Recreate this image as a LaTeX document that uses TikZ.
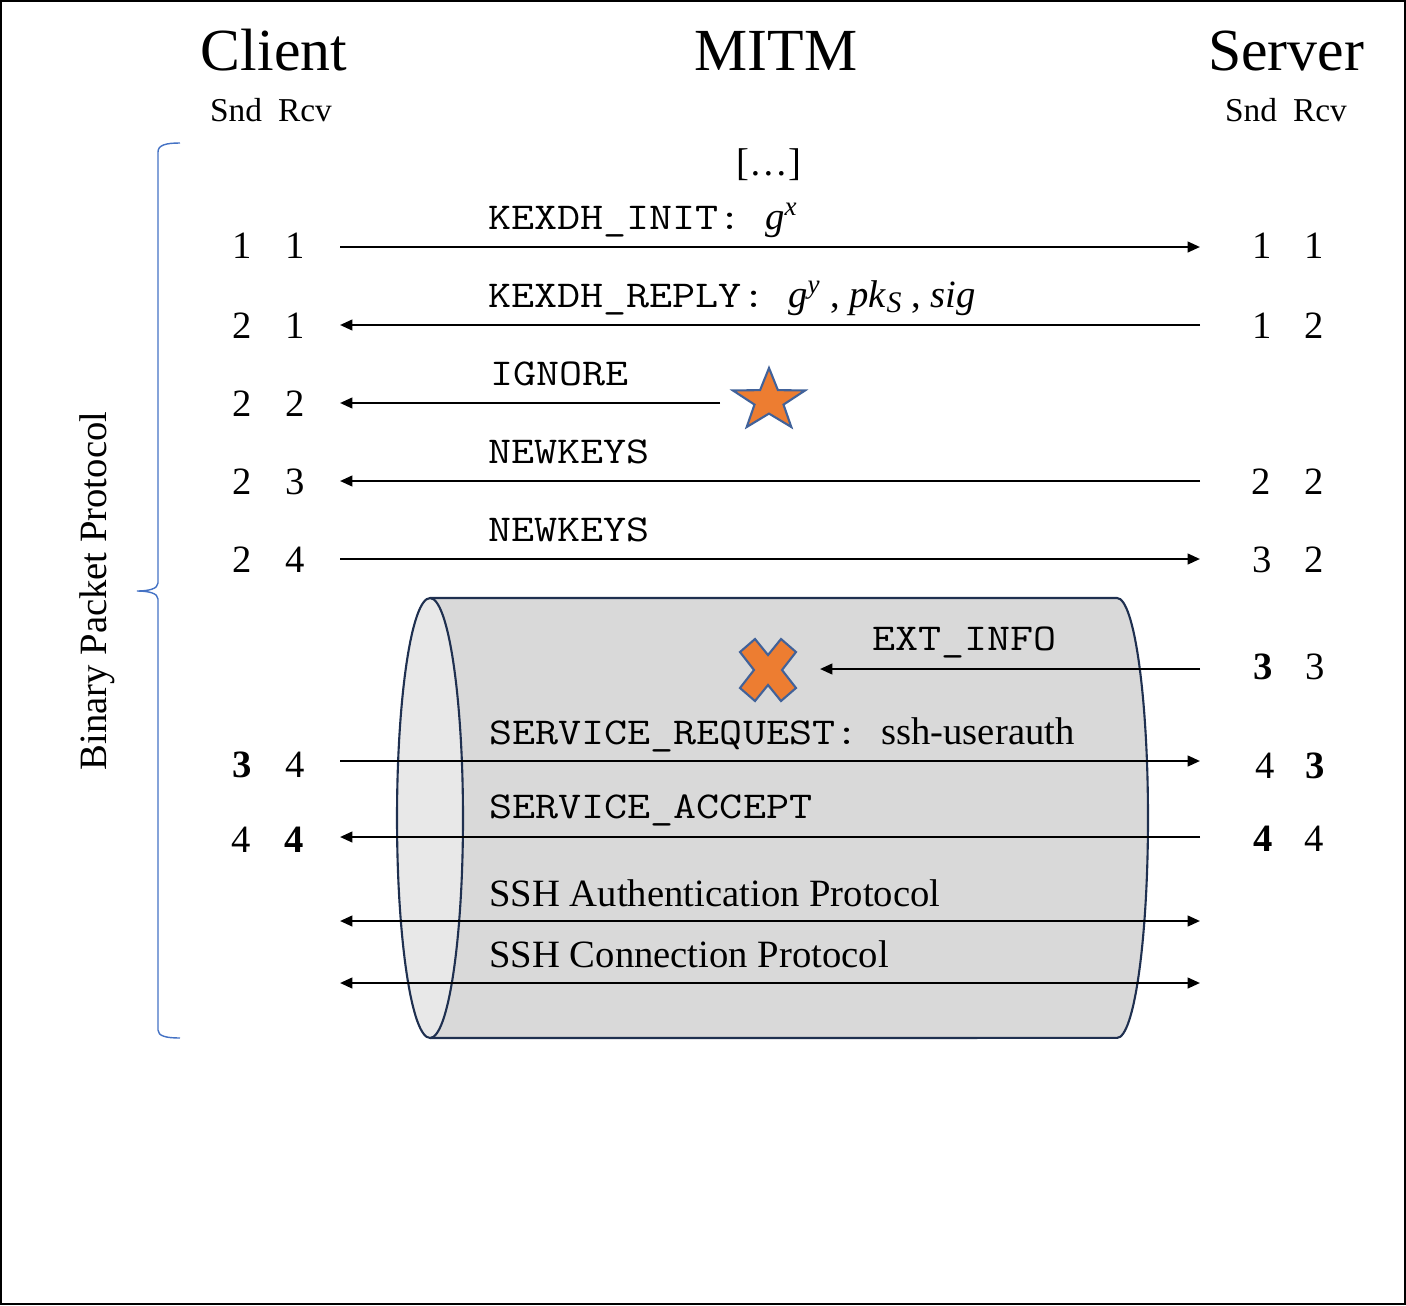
\documentclass[tikz,border=0pt]{standalone}
\usepackage{fontspec}
\setmainfont{Liberation Serif}
\newfontfamily\lmmono{Latin Modern Mono}[FakeStretch=1.18]
\usetikzlibrary{arrows.meta}
\definecolor{orng}{HTML}{ED7D31}
\definecolor{edgeblue}{HTML}{41629A}
\definecolor{cylgray}{HTML}{D9D9D9}
\definecolor{cylface}{HTML}{E8E8E8}
\definecolor{cylline}{HTML}{1F3050}
\definecolor{bracecol}{HTML}{4472C4}
\newcommand\fszz{\fontsize{22}{26}\selectfont}
\newcommand\monosz{\lmmono\fontsize{21.6}{26}\selectfont}
\tikzset{
  num/.style={font=\fszz, anchor=base, inner sep=0pt},
  lab/.style={font=\monosz, anchor=base west, inner sep=0pt},
  txt/.style={font=\fszz, anchor=base west, inner sep=0pt},
  msg/.style={line width=1.3pt, -{Triangle[length=7pt,width=6pt]}},
  msgboth/.style={line width=1.3pt, {Triangle[length=7pt,width=6pt]}-{Triangle[length=7pt,width=6pt]}},
}
\begin{document}
\begin{tikzpicture}[x=0.02cm,y=-0.02cm]
\useasboundingbox (0,0) rectangle (1406,1305);
\draw[line width=1.2pt] (1,1) rectangle (1405,1304);

% titles
\node[font=\fontsize{34}{40}\selectfont, anchor=base, inner sep=0pt] (tclient) at (274,70) {Client};
\node[font=\fontsize{34}{40}\selectfont, anchor=base, inner sep=0pt] (tmitm) at (776,70) {MITM};
\node[font=\fontsize{34}{40}\selectfont, anchor=base, inner sep=0pt] (tserver) at (1286,70) {Server};
\node[font=\fontsize{19}{22}\selectfont, anchor=base, inner sep=0pt] (csnd) at (236,121) {Snd};
\node[font=\fontsize{19}{22}\selectfont, anchor=base, inner sep=0pt] (crcv) at (305,121) {Rcv};
\node[font=\fontsize{19}{22}\selectfont, anchor=base, inner sep=0pt] (ssnd) at (1251,121) {Snd};
\node[font=\fontsize{19}{22}\selectfont, anchor=base, inner sep=0pt] (srcv) at (1320,121) {Rcv};
\node[num] (dots) at (769,175) {[…]};

% brace
\draw[bracecol, line width=0.8pt] (180,143) .. controls (166,143) and (158,145) .. (158,152)
  -- (158,583) .. controls (158,589) and (148,591) .. (137,591)
  .. controls (148,591) and (158,593) .. (158,599)
  -- (158,1030) .. controls (158,1036) and (166,1038) .. (180,1038);
\node[font=\fszz, rotate=90, anchor=base, inner sep=0pt] (bpp) at (106,591) {Binary Packet Protocol};

% cylinder
\fill[cylgray] (430,598) -- (1117,598) arc[start angle=90, end angle=-90, x radius=0.62cm, y radius=4.4cm] -- (430,1038) -- cycle;
\draw[cylline, line width=1.2pt] (430,598) -- (1117,598) arc[start angle=90, end angle=-90, x radius=0.62cm, y radius=4.4cm] -- (430,1038);
\filldraw[fill=cylface, draw=cylline, line width=1.2pt] (430,818) ellipse [x radius=0.66cm, y radius=4.4cm];

% star
\filldraw[fill=orng, draw=edgeblue, line width=1.2pt]
  (769,368) -- (760.1,390.1) -- (733.0,390.5) -- (754.5,404.6) -- (746.7,427.0)
  -- (769,413.6) -- (791.3,427.0) -- (783.5,404.6) -- (805.0,390.5) -- (777.9,390.1) -- cycle;
% cross
\filldraw[fill=orng, draw=edgeblue, line width=1.2pt, shift={(768,670)}]
  (0,-15) -- (13,-31) -- (28,-18) -- (14,0) -- (28,18) -- (13,31) -- (0,15)
  -- (-13,31) -- (-28,18) -- (-14,0) -- (-28,-18) -- (-13,-31) -- cycle;

% coordinates
\foreach \n/\y in {1/247,2/325,3/403,4/481,5/559,6/669,7/761,8/837,9/921,10/983}{
  \coordinate (L\n) at (340,\y);
  \coordinate (R\n) at (1200,\y);
}
\coordinate (M3) at (720,403);
\coordinate (M6) at (820,669);

% arrows
\draw[msg] (L1) -- (R1);
\draw[msg] (R2) -- (L2);
\draw[msg] (M3) -- (L3);
\draw[msg] (R4) -- (L4);
\draw[msg] (L5) -- (R5);
\draw[msg] (R6) -- (M6);
\draw[msg] (L7) -- (R7);
\draw[msg] (R8) -- (L8);
\draw[msgboth] (L9) -- (R9);
\draw[msgboth] (L10) -- (R10);

% labels
\node[lab] (l1) at (488,229) {KEXDH\_INIT:};
\node[txt] (l1m) at (765,229) {\textit{g}\textsuperscript{\textit{x}}};
\node[lab] (l2) at (488,307) {KEXDH\_REPLY:};
\node[txt] (l2m) at (788,307) {\textit{g}\textsuperscript{\textit{y}} , \textit{pk}\raisebox{-0.3ex}{\fontsize{17}{20}\selectfont\textit{S}} , \textit{sig}};
\node[lab] (l3) at (490,385) {IGNORE};
\node[lab] (l4) at (488,463) {NEWKEYS};
\node[lab] (l5) at (488,541) {NEWKEYS};
\node[lab] (l6) at (872,650) {EXT\_INFO};
\node[lab] (l7) at (489,744) {SERVICE\_REQUEST:};
\node[txt] (l7m) at (881,744) {ssh-userauth};
\node[lab] (l8) at (489,818) {SERVICE\_ACCEPT};
\node[txt] (l9) at (489,906) {SSH Authentication Protocol};
\node[txt] (l10) at (489,967) {SSH Connection Protocol};

% client numbers
\node[num] (ca1) at (242,258) {1}; \node[num] (cb1) at (295,258) {1};
\node[num] (ca2) at (242,338) {2}; \node[num] (cb2) at (295,338) {1};
\node[num] (ca3) at (242,416) {2}; \node[num] (cb3) at (295,416) {2};
\node[num] (ca4) at (242,494) {2}; \node[num] (cb4) at (295,494) {3};
\node[num] (ca5) at (242,572) {2}; \node[num] (cb5) at (295,572) {4};
\node[num] (ca7) at (242,777) {\textbf{3}}; \node[num] (cb7) at (295,777) {4};
\node[num] (ca8) at (241,852) {4}; \node[num] (cb8) at (294,852) {\textbf{4}};

% server numbers
\node[num] (sa1) at (1262,258) {1}; \node[num] (sb1) at (1314,258) {1};
\node[num] (sa2) at (1262,338) {1}; \node[num] (sb2) at (1314,338) {2};
\node[num] (sa4) at (1261,494) {2}; \node[num] (sb4) at (1314,494) {2};
\node[num] (sa5) at (1262,572) {3}; \node[num] (sb5) at (1314,572) {2};
\node[num] (sa6) at (1263,679) {\textbf{3}}; \node[num] (sb6) at (1315,679) {3};
\node[num] (sa7) at (1265,778) {4}; \node[num] (sb7) at (1315,778) {\textbf{3}};
\node[num] (sa8) at (1263,851) {\textbf{4}}; \node[num] (sb8) at (1314,851) {4};
\end{tikzpicture}
\end{document}
